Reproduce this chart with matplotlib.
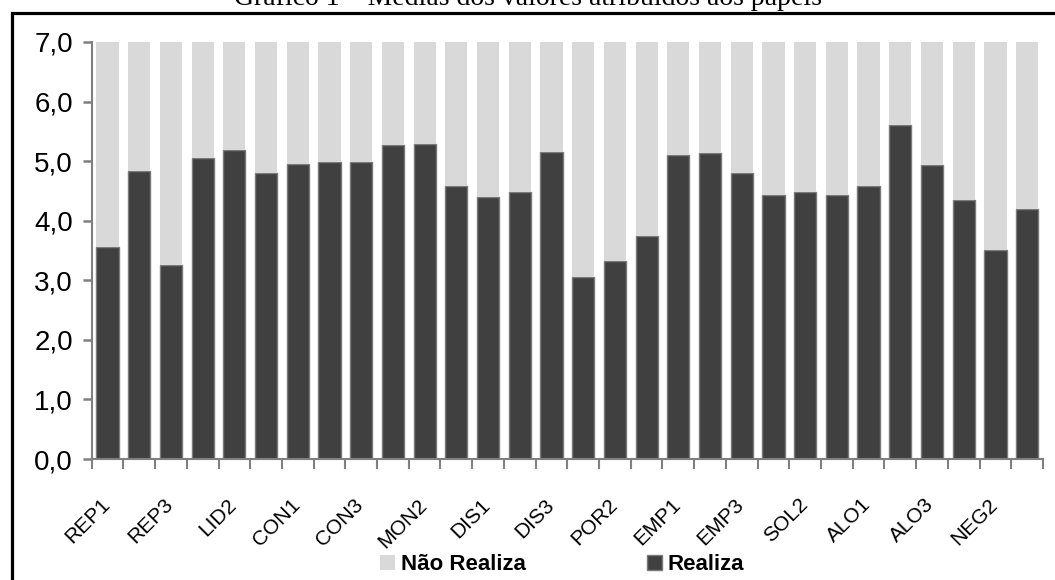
import numpy as np
import matplotlib
matplotlib.use('Agg')
import matplotlib.pyplot as plt
from matplotlib.patches import Rectangle
from matplotlib.transforms import ScaledTranslation

papeis = ['REP1', 'REP2', 'REP3', 'LID1', 'LID2', 'LID3', 'CON1', 'CON2', 'CON3',
          'MON1', 'MON2', 'MON3', 'DIS1', 'DIS2', 'DIS3', 'POR1', 'POR2', 'POR3',
          'EMP1', 'EMP2', 'EMP3', 'SOL1', 'SOL2', 'SOL3', 'ALO1', 'ALO2', 'ALO3',
          'NEG1', 'NEG2', 'NEG3']

realiza = [3.56, 4.83, 3.26, 5.05, 5.18, 4.80, 4.96, 4.98, 4.98,
           5.27, 5.28, 4.59, 4.40, 4.48, 5.16, 3.06, 3.32, 3.74,
           5.11, 5.13, 4.80, 4.44, 4.49, 4.44, 4.58, 5.60, 4.93,
           4.34, 3.51, 4.20]

nao_realiza = [3.44, 2.17, 3.74, 1.95, 1.82, 2.20, 2.04, 2.02, 2.02,
               1.73, 1.72, 2.41, 2.60, 2.52, 1.84, 3.94, 3.68, 3.26,
               1.89, 1.87, 2.20, 2.56, 2.51, 2.56, 2.42, 1.40, 2.07,
               2.66, 3.49, 2.80]

y_ticks = [0, 1, 2, 3, 4, 5, 6, 7]
y_labels = ['0,0', '1,0', '2,0', '3,0', '4,0', '5,0', '6,0', '7,0']

plt.rcParams['font.family'] = ['Liberation Sans', 'DejaVu Sans']

fig = plt.figure(figsize=(10.55, 5.8), dpi=100)
ax = fig.add_axes([0.0869, 0.2086, 0.9017, 0.719])

x = np.arange(len(papeis))
ax.bar(x, realiza, width=0.7, color='#404040', edgecolor='#7a7a7a', linewidth=1.0,
       label='Realiza', zorder=2)
ax.bar(x, nao_realiza, width=0.7, bottom=realiza, color='#d9d9d9', linewidth=0,
       label='Não Realiza', zorder=2)

ax.set_xlim(-0.5, len(papeis) - 0.5)
ax.set_ylim(0, 7)

ax.set_yticks(y_ticks)
ax.set_yticklabels(y_labels, fontsize=20)

# rótulos só de dois em dois papéis, traços entre as categorias
ax.set_xticks(x[::2])
ax.set_xticklabels(papeis[::2], rotation=45, ha='right', fontsize=15)
ax.set_xticks(np.arange(-0.5, len(papeis), 1.0), minor=True)
ax.tick_params(axis='x', which='major', length=0, pad=26)
ax.tick_params(axis='x', which='minor', length=7.5, width=1.5, color='#808080')
ax.tick_params(axis='y', length=6.5, width=1.8, color='#808080', pad=7)

# empurra os rótulos um pouco para a direita
shift = ScaledTranslation(6 / 100, 0, fig.dpi_scale_trans)
for lbl in ax.get_xticklabels():
    lbl.set_transform(lbl.get_transform() + shift)

for side in ['top', 'right']:
    ax.spines[side].set_visible(False)
for side in ['left', 'bottom']:
    ax.spines[side].set_color('#808080')
    ax.spines[side].set_linewidth(1.5)

handles, labels = ax.get_legend_handles_labels()
leg = fig.legend(handles[::-1], labels[::-1], loc='lower left', ncol=2,
                 bbox_to_anchor=(0.341, -0.026), frameon=False,
                 prop={'size': 16, 'weight': 'bold'},
                 handlelength=0.7, handleheight=0.7, handletextpad=0.25,
                 columnspacing=5.45)

# moldura e título do quadro
fig.patches.append(Rectangle((11.5 / 1055, -0.1), 1.2, 1 - 12.5 / 580 + 0.1,
                             transform=fig.transFigure, fill=False,
                             edgecolor='black', linewidth=2.3, zorder=5))
fig.text(0.5, 1 - 5 / 580, 'Gráfico 1 – Médias dos valores atribuídos aos papéis',
         ha='center', va='baseline', fontsize=20, family='Liberation Serif')

fig.savefig('out.png', dpi=100)
